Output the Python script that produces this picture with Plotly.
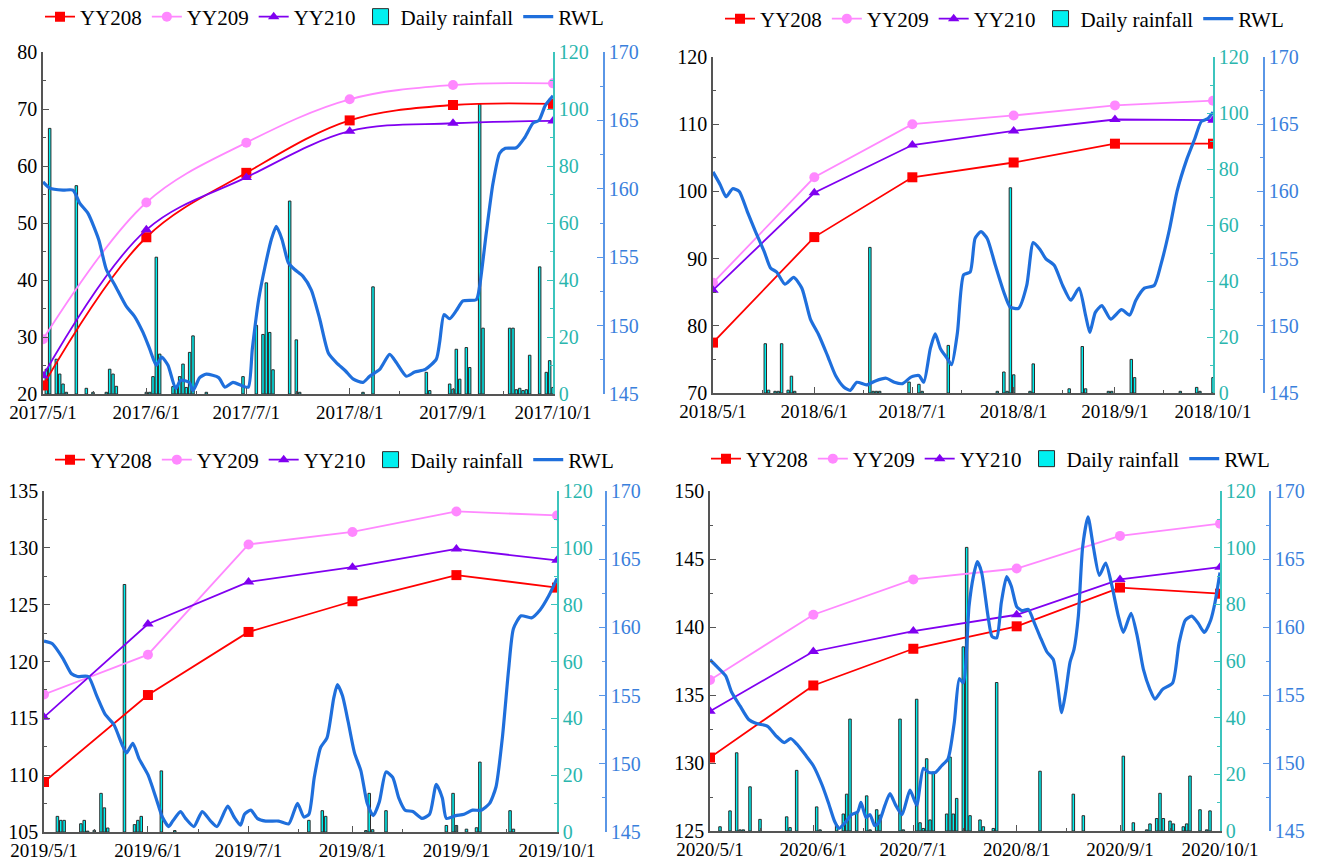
import pandas as pd
import plotly.graph_objects as go

# ---------------- data ----------------
years = [2017, 2018, 2019, 2020]

# monthly displacement readings (May 1 ... Oct 1)
month_days = ["05-01", "06-01", "07-01", "08-01", "09-01", "10-01"]
yy208 = {
    2017: [21.5, 47.5, 58.8, 68.0, 70.7, 70.9],
    2018: [77.5, 93.2, 102.1, 104.3, 107.1, 107.1],
    2019: [109.4, 117.05, 122.6, 125.3, 127.6, 126.5],
    2020: [130.4, 135.7, 138.4, 140.05, 142.9, 142.45],
}
yy209 = {
    2017: [29.6, 53.6, 64.1, 71.7, 74.2, 74.5],
    2018: [86.4, 102.1, 110.0, 111.3, 112.8, 113.5],
    2019: [117.1, 120.6, 130.3, 131.4, 133.2, 132.85],
    2020: [136.1, 140.9, 143.5, 144.3, 146.7, 147.6],
}
yy210 = {
    2017: [23.2, 48.8, 58.0, 66.1, 67.5, 67.9],
    2018: [85.3, 99.8, 106.9, 109.0, 110.7, 110.6],
    2019: [115.1, 123.3, 127.0, 128.3, 129.9, 128.9],
    2020: [133.8, 138.2, 139.7, 140.9, 143.5, 144.4],
}

# daily rainfall: day number counted from May 1, and rainfall (mm)
rain_day = {
    2017: [1, 2, 4, 5, 6, 7, 10, 13, 15, 19, 20, 21, 22, 31, 32, 33, 34, 35, 39, 40, 41, 42,
           43, 44, 45, 49, 60, 64, 66, 67, 68, 69, 74, 76, 77, 96, 99, 115, 116, 122, 123,
           124, 125, 127, 128, 131, 132, 140, 141, 142, 143, 144, 145, 146, 149, 151, 152, 153],
    2018: [16, 17, 19, 20, 21, 23, 24, 25, 48, 49, 50, 51, 60, 63, 64, 72, 87, 89, 90, 91,
           92, 97, 98, 109, 113, 114, 121, 122, 128, 129, 143, 148, 149, 153],
    2019: [4, 5, 6, 11, 12, 13, 15, 17, 18, 19, 24, 27, 28, 29, 35, 39, 79, 83, 84, 96, 97,
           98, 102, 120, 122, 123, 126, 129, 130, 139, 140],
    2020: [3, 6, 8, 9, 10, 12, 15, 23, 24, 26, 32, 33, 38, 40, 41, 42, 44, 47, 48, 50, 51,
           57, 58, 62, 63, 64, 65, 66, 67, 71, 72, 73, 74, 76, 77, 78, 81, 82, 85, 86, 99,
           109, 112, 124, 127, 131, 132, 134, 135, 136, 138, 139, 142, 143, 144, 147, 149, 150],
}
rain_mm = {
    2017: [8.7, 93.2, 12.2, 7.0, 3.5, 0.6, 73.1, 2.0, 0.6, 0.6, 8.7, 7.0, 2.7, 0.6, 0.6, 6.1,
           48.0, 14.0, 2.6, 2.0, 6.1, 10.5, 2.3, 14.6, 20.4, 0.6, 6.1, 24.1, 20.9, 39.0, 21.6,
           8.5, 67.7, 19.0, 0.6, 0.6, 37.6, 7.6, 1.2, 3.5, 1.7, 15.7, 5.2, 16.3, 9.3, 101.7,
           23.1, 23.1, 23.1, 1.5, 2.0, 1.2, 1.5, 13.6, 44.6, 7.6, 11.7, 2.3],
    2018: [17.6, 1.0, 0.6, 0.6, 17.6, 1.0, 6.0, 0.6, 52.0, 0.6, 0.6, 0.6, 3.9, 3.1, 0.6,
           17.0, 0.6, 7.5, 0.6, 73.3, 6.5, 0.6, 10.4, 1.5, 16.6, 1.5, 0.6, 0.6, 12.0, 5.5,
           0.6, 2.0, 0.6, 5.5],
    2019: [5.5, 4.1, 4.1, 2.9, 4.1, 0.3, 0.6, 13.6, 8.5, 1.4, 87.1, 2.6, 4.1, 5.5, 21.5, 0.5,
           4.1, 7.5, 5.5, 0.5, 13.6, 0.8, 7.5, 2.3, 13.6, 2.3, 1.0, 1.5, 24.6, 7.5, 1.0],
    2020: [1.5, 7.1, 27.6, 0.4, 0.4, 15.6, 4.1, 5.0, 1.2, 21.4, 8.5, 0.4, 2.1, 6.0, 13.0,
           39.5, 6.5, 12.4, 0.4, 7.5, 5.6, 39.5, 0.4, 46.5, 2.9, 0.9, 25.5, 3.9, 20.8, 6.0,
           26.1, 6.0, 11.5, 65.0, 100.1, 5.4, 3.9, 1.5, 0.9, 52.4, 21.1, 13.0, 5.4, 26.4,
           2.9, 0.4, 2.5, 4.4, 13.3, 4.4, 3.5, 2.5, 1.5, 2.5, 19.4, 7.5, 0.4, 7.1],
}

# reservoir water level (m): day number from May 1 and level
rwl_day = {
    2017: [0, 2, 6, 9, 11, 13.5, 16.7, 19, 21.7, 25, 27.4, 30, 32, 34, 35.6, 37.5, 39.8,
           41.3, 43.9, 45, 47, 49, 52.7, 54.6, 57, 59.7, 61.6, 62.8, 64.7, 66.6, 68.5, 70,
           71.7, 73.6, 75.5, 78, 80.5, 83, 85.6, 88, 90.7, 93, 96, 98, 101, 104, 106, 109,
           111.5, 114.7, 118, 119, 120.3, 122, 124, 126, 130, 131, 133, 135, 137, 138.7,
           142, 144.4, 147, 148.8, 150.7, 153],
    2018: [0, 2.2, 4, 6, 8, 10.5, 13, 15.7, 17.6, 19.5, 22, 24.7, 27.2, 29.8, 32.4, 35,
           37.5, 40, 42, 44, 47, 49.7, 53, 55.5, 58, 60.7, 63, 64.5, 66.5, 68, 69.6, 71.6,
           73, 74.8, 76.7, 78.7, 80.2, 82, 83.9, 86.4, 89, 90.9, 93.5, 96, 98, 100, 101.8,
           104.4, 107, 109.5, 112, 114, 115.3, 117, 119, 121.7, 125, 127.5, 129.4, 132,
           135, 137, 139.7, 142, 145, 147.4, 149.4, 151.3, 153],
    2019: [0, 2.5, 5.7, 8.2, 10, 13.2, 15.7, 18.3, 20.8, 23.3, 24.6, 26.5, 28.3, 31, 33.4,
           35.3, 37.2, 38.4, 40.7, 42.2, 44.7, 47.2, 49.7, 51.6, 54.8, 56.7, 58.6, 59.8,
           61.7, 63.6, 66.1, 70, 73, 75.6, 77.5, 79, 80.6, 82.5, 84.4, 86.4, 87.5, 89, 90.7,
           92.6, 94.5, 96.4, 98.2, 100, 102, 104, 105.8, 107.7, 110, 112.7, 115, 117, 118.8,
           120, 122.8, 125.3, 127.8, 130.4, 132.9, 134.8, 136.7, 138.6, 140, 142.3, 145.4,
           148, 150.5, 153],
    2020: [0, 2, 4.7, 6.5, 9, 11.6, 14, 17.3, 19.8, 22.3, 24.2, 26, 28.6, 31, 33.6, 35.5,
           37.4, 38.7, 40.5, 42.4, 44.3, 45.3, 46.8, 48, 49.4, 50.6, 52.5, 54, 55.7, 57.6,
           60, 62, 64, 65.7, 67.6, 69.5, 71.4, 73.3, 74.8, 76, 77.7, 79, 80.2, 81.5, 83.4,
           84.6, 86, 87.4, 89, 90.4, 92, 93.6, 95.5, 97.3, 99, 101, 103, 104.2, 105.5,
           106.7, 108, 109.2, 110.5, 111.8, 113.4, 115, 116.8, 118.7, 120.6, 122.5, 124,
           126.3, 128.2, 130, 132, 133.5, 135.7, 138.8, 140.7, 142.6, 144.5, 146.4, 148.3,
           150.2, 151.5, 153],
}
rwl_level = {
    2017: [160.5, 160.05, 159.9, 159.9, 158.95, 158.2, 156.3, 154.1, 152.9, 151.4, 150.7,
           149.5, 148.3, 147.1, 147.7, 147.1, 145.4, 146.0, 145.85, 145.25, 146.2, 146.45,
           146.2, 145.5, 145.85, 145.6, 145.5, 148.3, 151.9, 154.3, 156.3, 157.25, 156.3,
           154.6, 154.1, 153.6, 152.6, 150.5, 148.0, 147.3, 146.7, 146.1, 145.85, 146.3,
           146.8, 147.9, 147.3, 146.3, 146.6, 146.8, 147.55, 148.8, 150.8, 150.5, 151.1,
           151.8, 151.9, 152.9, 156.8, 160.4, 162.6, 162.96, 163.0, 163.7, 164.8, 165.0,
           166.1, 166.8],
    2018: [161.45, 160.5, 159.6, 160.2, 160.0, 158.5, 157.0, 155.5, 154.3, 154.0, 153.1,
           153.6, 152.8, 150.5, 149.3, 147.8, 146.3, 145.45, 145.2, 145.8, 145.6, 145.9,
           146.1, 145.8, 145.7, 146.2, 146.3, 145.8, 148.3, 149.4, 148.3, 147.6, 147.1,
           149.5, 153.8, 154.0, 156.5, 157.0, 156.5, 154.5, 152.5, 151.4, 151.3, 153.0,
           156.2, 155.7, 155.0, 154.5, 153.0, 151.9, 152.8, 150.8, 149.5, 151.0, 151.5,
           150.5, 151.2, 150.8, 151.9, 152.8, 153.0, 154.5, 157.2, 160.0, 162.4, 163.9,
           165.2, 165.4, 165.9],
    2019: [159.0, 158.8, 157.7, 156.6, 156.4, 156.4, 155.0, 153.6, 152.9, 151.4, 150.8,
           151.5, 150.4, 149.2, 147.5, 146.1, 145.4, 145.8, 146.5, 146.0, 145.4, 146.5,
           145.8, 145.4, 146.9, 146.1, 145.5, 146.3, 146.6, 146.0, 145.8, 145.8, 145.6,
           147.1, 146.1, 146.3, 149.0, 151.2, 151.9, 154.8, 155.8, 155.0, 153.1, 150.8,
           149.5, 147.1, 146.2, 147.2, 149.4, 149.0, 147.5, 146.6, 146.5, 146.0, 146.3,
           148.5, 147.5, 146.0, 146.2, 146.3, 146.6, 146.6, 147.1, 148.3, 151.9, 157.0,
           159.9, 160.85, 160.7, 161.3, 162.3, 163.6],
    2020: [157.6, 157.1, 156.4, 155.2, 154.2, 153.2, 152.9, 152.7, 152.0, 151.5, 151.8,
           151.4, 150.6, 149.8, 148.4, 147.1, 145.7, 145.2, 145.6, 146.2, 146.4, 147.1,
           146.0, 146.2, 145.4, 145.6, 146.9, 147.75, 146.9, 146.2, 148.0, 146.9, 149.6,
           149.3, 149.3, 149.8, 150.3, 153.0, 156.2, 155.9, 161.5, 163.7, 164.8, 164.0,
           160.8, 159.3, 159.2, 161.8, 163.7, 163.0, 161.5, 161.2, 161.3, 160.3, 159.3,
           158.2, 157.6, 155.9, 153.7, 155.2, 157.4, 158.35, 160.8, 165.9, 168.1, 165.9,
           163.8, 164.7, 163.0, 160.8, 159.6, 161.0, 159.3, 156.9, 155.4, 154.7, 155.4,
           155.9, 158.8, 160.5, 160.8, 160.3, 159.6, 160.5, 161.8, 164.0],
}

left_range = {2017: (20, 80, 10), 2018: (70, 120, 10), 2019: (105, 135, 5), 2020: (125, 150, 5)}
disp_shape = {2017: "spline", 2018: "linear", 2019: "linear", 2020: "linear"}

# ---------------- layout geometry (pixels) ----------------
W, H = 1319, 862
# (left axis x, rainfall axis x, RWL axis x, top y, bottom y, legend x, legend y)
panels = {
    2017: (43, 553, 604, 52, 394, 40, 17),
    2018: (713, 1213, 1264, 57, 393, 720, 19),
    2019: (44, 557, 606, 491, 832, 50, 460),
    2020: (710, 1220, 1270, 491, 831, 706, 459),
}

FONT = "Liberation Serif"
C_RAIN_AX = "#3cc4bd"
C_RAIN_TXT = "#2bb6ae"
C_RWL_AX = "#5a96e6"
C_RWL_TXT = "#3a80dc"
C_RWL = "#1f6fdc"
C_AX = "#555555"
C_BAR = "#00f0f0"
C_BAR_EDGE = "#2a2a2a"

fig = go.Figure()
layout = dict(
    template="none",
    width=W, height=H, margin=dict(l=0, r=0, t=0, b=0, autoexpand=False),
    paper_bgcolor="white", plot_bgcolor="rgba(0,0,0,0)",
    font=dict(family=FONT, size=19, color="black"),
    showlegend=True,
)


def px_x(v):
    return v / W


def px_y(v):
    return 1 - v / H


for i, yr in enumerate(years):
    lx, rx, wx, ty, by, legx, legy = panels[yr]
    xid = "" if i == 0 else str(i + 1)
    n_rain = 3 * i + 1
    n_disp = 3 * i + 2
    n_rwl = 3 * i + 3
    yid_rain = "" if n_rain == 1 else str(n_rain)
    leg = "legend" if i == 0 else f"legend{i + 1}"

    start = pd.Timestamp(f"{yr}-05-01")
    end = pd.Timestamp(f"{yr}-10-01")
    mdates = [pd.Timestamp(f"{yr}-{md}") for md in month_days]
    rdates = [start + pd.Timedelta(days=d) for d in rain_day[yr]]
    wdates = [start + pd.Timedelta(hours=24 * d) for d in rwl_day[yr]]

    xa = "x" + xid
    ya_rain = "y" + yid_rain
    ya_disp = "y" + str(n_disp)
    ya_rwl = "y" + str(n_rwl)

    # rainfall bars (base subplot, drawn underneath)
    fig.add_trace(go.Bar(
        x=rdates, y=rain_mm[yr], name="Daily rainfall", xaxis=xa, yaxis=ya_rain,
        width=0.75 * 86400000, marker=dict(color=C_BAR, line=dict(color=C_BAR_EDGE, width=1)),
        showlegend=False,
    ))
    # larger box swatch for the rainfall legend entry
    fig.add_trace(go.Scatter(
        x=[None], y=[None], name="Daily rainfall", mode="markers", xaxis=xa, yaxis=ya_rain,
        marker=dict(symbol="square", size=16, color=C_BAR, line=dict(color=C_BAR_EDGE, width=1)),
        legend=leg, legendrank=4,
    ))
    # displacement curves
    for name, data, col, sym, rank in [
        ("YY208", yy208, "#ff0000", "square", 1),
        ("YY209", yy209, "#ff88ff", "circle", 2),
        ("YY210", yy210, "#8000f0", "triangle-up", 3),
    ]:
        fig.add_trace(go.Scatter(
            x=mdates, y=data[yr], name=name, mode="lines+markers", xaxis=xa, yaxis=ya_disp,
            line=dict(color=col, width=1.8, shape=disp_shape[yr], smoothing=1.0),
            marker=dict(symbol=sym, size=10, color=col), legend=leg, legendrank=rank,
        ))
    # reservoir water level
    fig.add_trace(go.Scatter(
        x=wdates, y=rwl_level[yr], name="RWL", mode="lines", xaxis=xa, yaxis=ya_rwl,
        line=dict(color=C_RWL, width=3.2, shape="spline", smoothing=0.6),
        legend=leg, legendrank=5,
    ))

    dom_y = [px_y(by), px_y(ty)]
    mids = [pd.Timestamp(f"{yr}-{m:02d}-16") for m in range(5, 10)]
    layout["xaxis" + xid] = dict(
        domain=[px_x(lx), px_x(rx)], anchor=ya_rain, range=[start, end], automargin=False,
        tickmode="array", tickvals=mdates, ticktext=[f"{yr}/{d.month}/1" for d in mdates],
        ticks="inside", ticklen=6, tickcolor=C_AX, showline=True, linecolor=C_AX, linewidth=1.5,
        showgrid=False, zeroline=False, tickfont=dict(family=FONT, size=19, color="black"),
        minor=dict(tickmode="array", tickvals=mids, ticks="inside", ticklen=3, tickcolor=C_AX,
                   showgrid=False),
    )
    lo, hi, step = left_range[yr]
    layout["yaxis" + yid_rain] = dict(
        domain=dom_y, anchor=xa, side="right", range=[0, 120], dtick=20, tick0=0,
        automargin=False, ticks="inside", ticklen=6, tickcolor=C_RAIN_AX, showline=True,
        linecolor=C_RAIN_AX, linewidth=1.5, showgrid=False, zeroline=False,
        tickfont=dict(family=FONT, size=20, color=C_RAIN_TXT),
        minor=dict(dtick=10, ticks="inside", ticklen=3, tickcolor=C_RAIN_AX, showgrid=False),
    )
    layout["yaxis" + str(n_disp)] = dict(
        domain=dom_y, anchor=xa, overlaying=ya_rain, side="left", range=[lo, hi], dtick=step,
        tick0=lo, automargin=False, ticks="inside", ticklen=6, tickcolor=C_AX, showline=True,
        linecolor=C_AX, linewidth=1.5, showgrid=False, zeroline=False,
        tickfont=dict(family=FONT, size=20, color="black"),
        minor=dict(dtick=step / 2, ticks="inside", ticklen=3, tickcolor=C_AX, showgrid=False),
    )
    layout["yaxis" + str(n_rwl)] = dict(
        domain=dom_y, anchor="free", position=px_x(wx), overlaying=ya_rain, side="right",
        range=[145, 170], dtick=5, tick0=145, automargin=False, ticks="inside", ticklen=6,
        tickcolor=C_RWL_AX, showline=True, linecolor=C_RWL_AX, linewidth=1.5, showgrid=False,
        zeroline=False, tickfont=dict(family=FONT, size=20, color=C_RWL_TXT),
        minor=dict(dtick=2.5, ticks="inside", ticklen=3, tickcolor=C_RWL_AX, showgrid=False),
    )
    layout[leg] = dict(
        orientation="h", x=px_x(legx), xanchor="left", y=px_y(legy), yanchor="middle",
        font=dict(family=FONT, size=21, color="black"), bgcolor="rgba(0,0,0,0)",
        itemsizing="trace", tracegroupgap=0, traceorder="normal",
    )

fig.update_layout(**layout)
fig.write_html("out.html")
